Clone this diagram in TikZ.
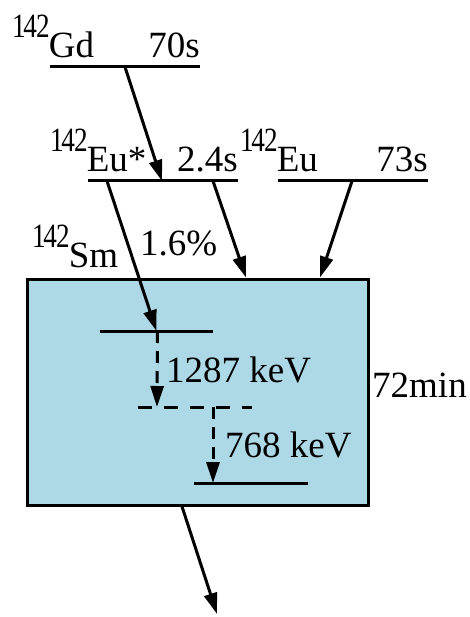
\documentclass[tikz,border=0pt]{standalone}
\usepackage{fontspec}
\setmainfont{Liberation Serif}
\usepackage{xcolor}
\usetikzlibrary{arrows.meta,calc,positioning}
\definecolor{boxblue}{HTML}{ADD8E6}
\newcommand{\isotope}[2]{\raisebox{20pt}{\scalebox{0.8}[1]{\fontsize{34pt}{36pt}\selectfont 1\kern-3pt4\kern-1pt2}}\kern-1pt#2}

\begin{document}
\begin{tikzpicture}[
x=1pt,y=-1pt,
font=\fontsize{37pt}{40pt}\selectfont,
lvl/.style={line width=3pt},
lvlpos/.style={inner sep=0pt,minimum height=0pt},
lbl/.style={inner sep=0pt},
arr/.style={-{Triangle[length=21pt,width=13pt]},line width=3pt},
dasharr/.style={arr,dash pattern=on 12pt off 8pt},
smbox/.style={draw,line width=3pt,fill=boxblue,minimum width=341pt,minimum height=226pt,inner sep=0pt}
]
\useasboundingbox (0,0) rectangle (469,617);
% daughter box
\node[smbox] (box) at (197.5,392) {};
% levels
\node[lvlpos,minimum width=150pt] (gd) at (125,67) {};
\node[lvlpos,minimum width=150pt] (eustar) at (163,181) {};
\node[lvlpos,minimum width=150pt] (eu) at (353,181) {};
\node[lvlpos,minimum width=113pt] (sma) at (156.5,331) {};
\node[lvlpos,minimum width=114pt] (smb) at (195,407) {};
\node[lvlpos,minimum width=113pt] (smg) at (251,483) {};
\draw[lvl] (gd.west) -- (gd.east);
\draw[lvl] (eustar.west) -- (eustar.east);
\draw[lvl] (eu.west) -- (eu.east);
\draw[lvl] (sma.west) -- (sma.east);
\draw[lvl,dash pattern=on 14pt off 12pt] (smb.west) -- (smb.east);
\draw[lvl] (smg.west) -- (smg.east);
% labels
\node[lbl,anchor=base west] (gdname) at (12,58) {\isotope{142}{Gd}};
\node[lbl,anchor=base east] (gdlife) at (200,58) {70s};
\node[lbl,anchor=base west] (eustarname) at (50,172) {\isotope{142}{Eu*}};
\node[lbl,anchor=base east] (eustarlife) at (238,172) {2.4s};
\node[lbl,anchor=base west] (euname) at (240,172) {\isotope{142}{Eu}};
\node[lbl,anchor=base east] (eulife) at (428,172) {73s};
\node[lbl,anchor=base west] (smname) at (32,267) {\isotope{142}{Sm}};
\node[lbl,anchor=base west] (branch) at (140,255) {1.6\%};
\node[lbl,anchor=base west] (smlife) at (372,397) {72min};
\node[lbl,anchor=base west] (gamma1) at (166,382) {1287 keV};
\node[lbl,anchor=base west] (gamma2) at (225,457) {768 keV};
\coordinate (out) at (217,614);
% decays
\draw[arr] (gd.center) -- ([xshift=-1pt]eustar.center);
\draw[arr] ([xshift=-56pt]eustar.center) -- (sma.center);
\draw[arr] ([xshift=50pt]eustar.center) -- ([xshift=48.5pt]box.north);
\draw[arr] ([xshift=-1pt]eu.center) -- ([xshift=122.5pt]box.north);
\draw[dasharr] ([xshift=1pt]sma.center) -- ([xshift=-38pt]smb.center);
\draw[dasharr] ([xshift=18pt]smb.center) -- ([xshift=-38pt]smg.center);
\draw[arr] ([xshift=-15.5pt]box.south) -- (out);
\end{tikzpicture}
\end{document}
